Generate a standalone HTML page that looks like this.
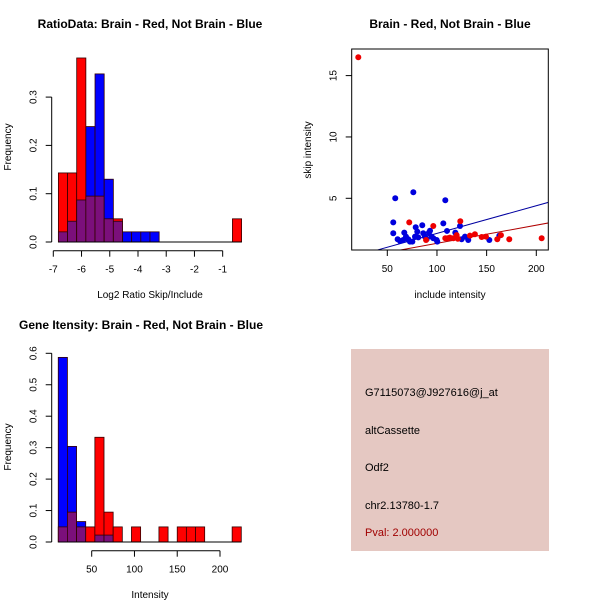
<!DOCTYPE html>
<html><head><meta charset="utf-8"><style>
body{margin:0;background:#fff;}
svg{display:block;font-family:"Liberation Sans",sans-serif;}
</style></head><body>
<svg id="c" width="600" height="600" xmlns="http://www.w3.org/2000/svg">
<rect width="600" height="600" fill="#fff"/>
<text x="150" y="28" text-anchor="middle" font-size="12" font-weight="bold">RatioData: Brain - Red, Not Brain - Blue</text>
<text x="450" y="28" text-anchor="middle" font-size="12" font-weight="bold">Brain - Red, Not Brain - Blue</text>
<text x="141" y="329" text-anchor="middle" font-size="12" font-weight="bold">Gene Itensity: Brain - Red, Not Brain - Blue</text>
<text x="150" y="298" text-anchor="middle" font-size="10">Log2 Ratio Skip/Include</text>
<text x="450" y="298" text-anchor="middle" font-size="10">include intensity</text>
<text x="150" y="598" text-anchor="middle" font-size="10">Intensity</text>
<text transform="translate(11,147) rotate(-90)" text-anchor="middle" font-size="10">Frequency</text>
<text transform="translate(311,150) rotate(-90)" text-anchor="middle" font-size="10">skip intensity</text>
<text transform="translate(11,447) rotate(-90)" text-anchor="middle" font-size="10">Frequency</text>
<g>
<rect x="351" y="349" width="198" height="202" fill="#E5C8C2"/>
<text x="365" y="396" font-size="11">G7115073@J927616@j_at</text>
<text x="365" y="434" font-size="11">altCassette</text>
<text x="365" y="471" font-size="11">Odf2</text>
<text x="365" y="509" font-size="11">chr2.13780-1.7</text>
<text x="365" y="536" font-size="11" fill="#A00000">Pval: 2.000000</text>
</g>
</svg>
<script>
// Histogram 1 data (log2 ratio)
const ratioBreakStart = -6.82;
const ratioBinWidth = 0.3245;
const ratioRed = [0.143,0.143,0.381,0.095,0.095,0.048,0.048,0,0,0,0,0,0,0,0,0,0,0,0,0.048];
const ratioBlue = [0.021,0.043,0.087,0.239,0.348,0.130,0.043,0.021,0.021,0.021,0.021,0,0,0,0,0,0,0,0,0];
const ratioXTicks = [-7,-6,-5,-4,-3,-2,-1];
const ratioYTicks = [0,0.1,0.2,0.3];
// Histogram 2 data (intensity)
const intBreakStart = 10.9;
const intBinWidth = 10.7;
const intRed = [0.048,0.095,0.048,0.048,0.333,0.095,0.048,0,0.048,0,0,0.048,0,0.048,0.048,0.048,0,0,0,0.048];
const intBlue = [0.587,0.304,0.065,0,0.022,0.022,0,0,0,0,0,0,0,0,0,0,0,0,0,0];
const intXTicks = [50,100,150,200];
const intYTicks = [0,0.1,0.2,0.3,0.4,0.5,0.6];
// Scatter data
const redX = [20.8,72.1,96.3,123.5,108.4,110.7,116.5,119.8,133.2,138.2,145,149.3,160.7,164.4,172.8,205.4,89,121,113];
const redY = [16.5,3.04,2.74,3.13,1.74,1.74,1.74,2.0,1.96,2.07,1.85,1.88,1.66,2.0,1.66,1.74,1.6,1.7,1.8];
const blueX = [58,76.2,108.4,56,56,60.4,62.8,66,67.1,68.8,71.1,72.8,75.2,77.9,78.6,80.2,81.2,85.2,86.2,87.9,89.6,91.9,93,94.6,96.3,99.7,100.3,106.4,110.1,118.5,123.2,124.8,128.2,131.5,152.7,162.8];
const blueY = [5.0,5.49,4.84,3.04,2.15,1.66,1.52,1.6,2.2,1.88,1.66,1.47,1.47,1.88,2.64,2.28,1.82,2.8,2.15,1.88,1.66,2.2,2.36,1.88,1.74,1.6,1.47,2.96,2.34,2.2,2.74,1.66,1.88,1.6,1.6,1.96];
const blueFit = [-0.119,0.02258];
const redFit = [-0.15,0.0148];
const scXTicks = [50,100,150,200];
const scYTicks = [5,10,15];

const NS="http://www.w3.org/2000/svg";
const svg=document.getElementById('c');
function mk(tag,attrs,parent){const e=document.createElementNS(NS,tag);for(const k in attrs)e.setAttribute(k,attrs[k]);(parent||svg).appendChild(e);return e;}

function hist(cfg){
  const g=mk('g',{});
  
  
  const sx=v=>cfg.x0+(v-cfg.xv0)*cfg.kx, sy=v=>cfg.y0-v*cfg.ky;
  for(let i=0;i<cfg.red.length;i++){
    const l=sx(cfg.bs+i*cfg.bw), r=sx(cfg.bs+(i+1)*cfg.bw);
    const rv=cfg.red[i], bv=cfg.blue[i], mn=Math.min(rv,bv);
    const layers=[];
    if(rv>bv) layers.push([rv,'#FF0000','red-bar']); else if(bv>rv) layers.push([bv,'#0000FF','blue-bar']);
    if(mn>0) layers.push([mn,'#7B0F7B','overlap-bar']);
    else if(rv===bv && rv>0) layers.push([rv,'#7B0F7B','overlap-bar']);
    for(const [v,col,nm] of layers){
      const b=mk('rect',{x:l,y:sy(v),width:r-l,height:sy(0)-sy(v),fill:col,stroke:'#300','stroke-width':0.8},g);
      
      
    }
  }
  mk('line',{x1:sx(cfg.bs),x2:sx(cfg.bs+cfg.red.length*cfg.bw),y1:sy(0),y2:sy(0),stroke:'#000','stroke-width':1},g);
  const yt=cfg.yticks;
  mk('line',{x1:cfg.ax,x2:cfg.ax,y1:sy(yt[0]),y2:sy(yt[yt.length-1]),stroke:'#000'},g);
  yt.forEach(t=>{mk('line',{x1:cfg.ax-6,x2:cfg.ax,y1:sy(t),y2:sy(t),stroke:'#000'},g);
    const tx=mk('text',{transform:`translate(${cfg.ax-15},${sy(t)}) rotate(-90)`,'text-anchor':'middle','font-size':10},g);tx.textContent=String(t.toFixed(1));
    
    });
  const xt=cfg.xticks, ay=cfg.axy;
  mk('line',{x1:sx(xt[0]),x2:sx(xt[xt.length-1]),y1:ay,y2:ay,stroke:'#000'},g);
  xt.forEach(t=>{mk('line',{x1:sx(t),x2:sx(t),y1:ay,y2:ay+6,stroke:'#000'},g);
    const tx=mk('text',{x:sx(t),y:ay+22,'text-anchor':'middle','font-size':10},g);tx.textContent=String(t);
    
    });
}
hist({name:'ratio-histogram',red:ratioRed,blue:ratioBlue,bs:ratioBreakStart,bw:ratioBinWidth,x0:53.3,xv0:-7,kx:28.23,y0:242,ky:483,ax:51.7,axy:250.7,xticks:ratioXTicks,yticks:ratioYTicks});
hist({name:'intensity-histogram',red:intRed,blue:intBlue,bs:intBreakStart,bw:intBinWidth,x0:91.7,xv0:50,kx:0.8553,y0:542,ky:314.5,ax:51.7,axy:550.7,xticks:intXTicks,yticks:intYTicks});

(function(){
  const g=mk('g',{});
  
  
  const L=351.7,R=548.3,T=49,B=250;
  const sx=v=>387.3+(v-50)*0.9933, sy=v=>198.3-(v-5)*12.27;
  mk('clipPath',{id:'clp'},g); mk('rect',{x:L,y:T,width:R-L,height:B-T},g.lastChild);
  [[blueFit,'#0000A0','blue-fit-line'],[redFit,'#B00000','red-fit-line']].forEach(([f,c,n])=>{
    const x1=0,x2=250;
    const ln=mk('line',{x1:sx(x1),x2:sx(x2),y1:sy(f[0]+f[1]*x1),y2:sy(f[0]+f[1]*x2),stroke:c,'stroke-width':1,'clip-path':'url(#clp)'},g);
    
    
  });
  blueX.forEach((x,i)=>{const p=mk('circle',{cx:sx(x),cy:sy(blueY[i]),r:3,fill:'#0000DD','clip-path':'url(#clp)'},g);
    
    });
  redX.forEach((x,i)=>{const p=mk('circle',{cx:sx(x),cy:sy(redY[i]),r:3,fill:'#EE0000','clip-path':'url(#clp)'},g);
    
    });
  mk('rect',{x:L,y:T,width:R-L,height:B-T,fill:'none',stroke:'#000'},g);
  scXTicks.forEach(t=>{mk('line',{x1:sx(t),x2:sx(t),y1:B,y2:B+6,stroke:'#000'},g);
    const tx=mk('text',{x:sx(t),y:B+22,'text-anchor':'middle','font-size':10},g);tx.textContent=String(t);
    
    });
  scYTicks.forEach(t=>{mk('line',{x1:L-6,x2:L,y1:sy(t),y2:sy(t),stroke:'#000'},g);
    const tx=mk('text',{transform:`translate(${L-15},${sy(t)}) rotate(-90)`,'text-anchor':'middle','font-size':10},g);tx.textContent=String(t);
    
    });
})();
</script>
</body></html>
